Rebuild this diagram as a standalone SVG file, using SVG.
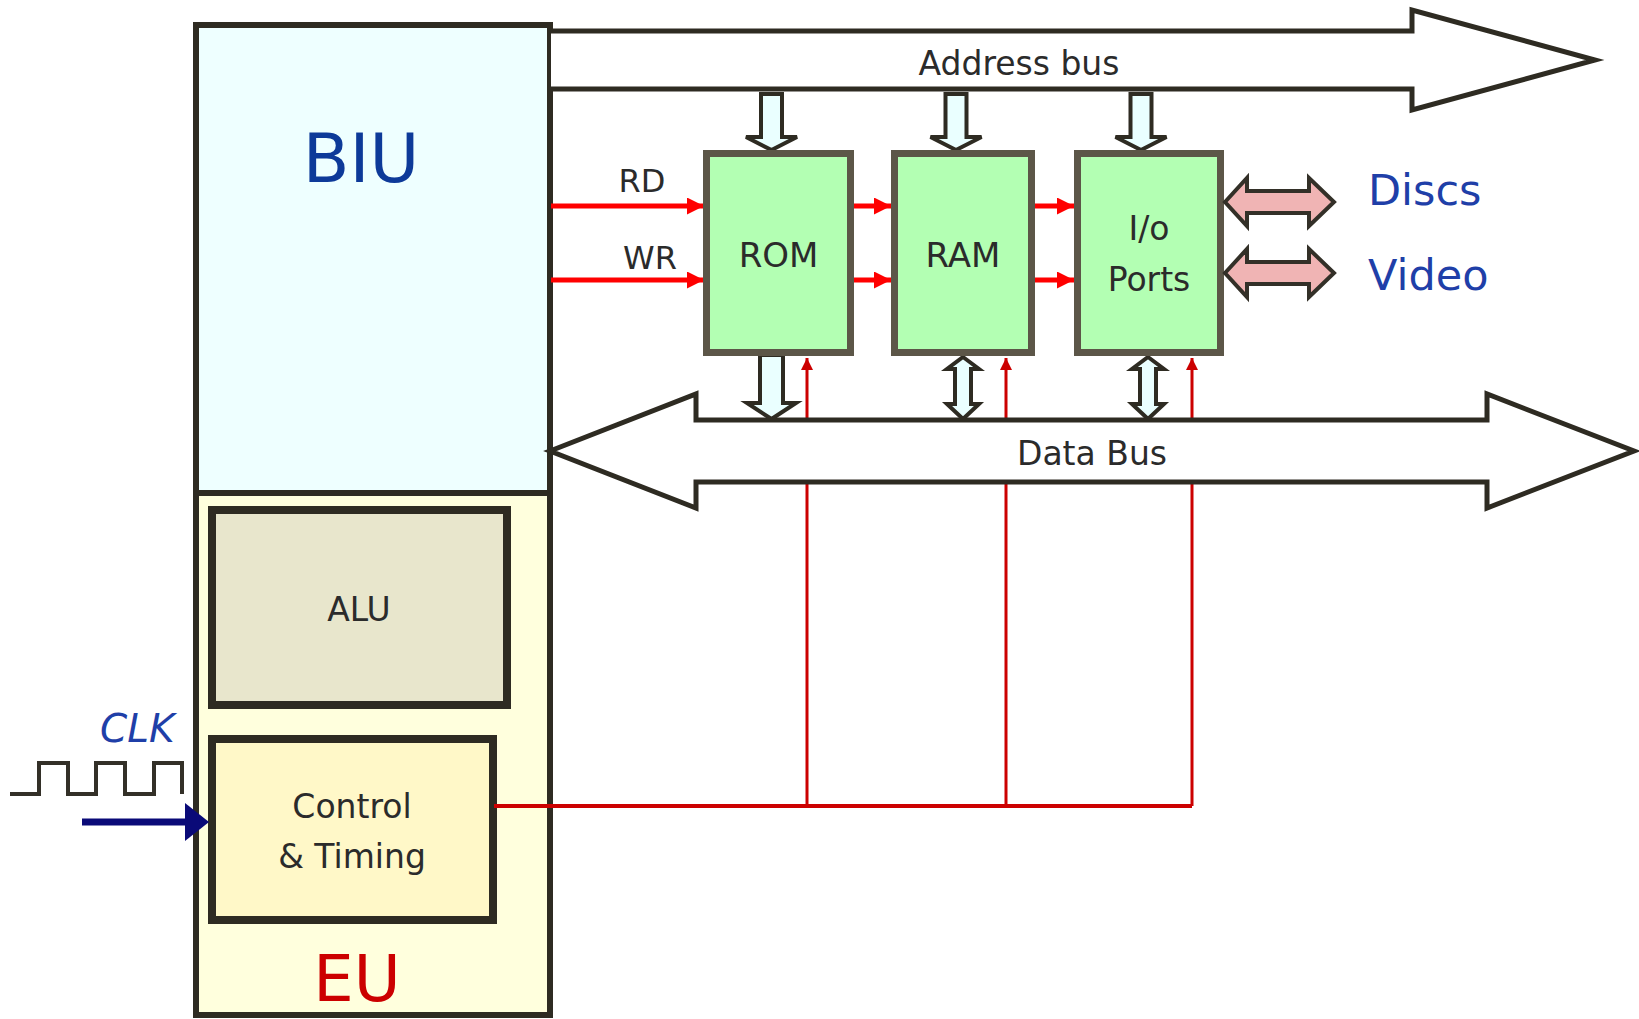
<svg xmlns="http://www.w3.org/2000/svg" width="1639" height="1019" viewBox="0 0 1639 1019">
<defs>
<style>
.lbl{font-family:"DejaVu Sans","Liberation Sans",sans-serif;fill:#2b2b2b;font-size:33px;text-anchor:middle}
.blue{font-family:"DejaVu Sans","Liberation Sans",sans-serif;fill:#1f3fa8}
.box{stroke:#5c5648;stroke-width:7;fill:#b3ffb3}
.bus{fill:#ffffff;stroke:#2e2b22;stroke-width:5;stroke-linejoin:miter}
.tap{fill:#eaffff;stroke:#2e2b22;stroke-width:4;stroke-linejoin:miter}
.dev{fill:#f0b4b4;stroke:#333028;stroke-width:4;stroke-linejoin:miter}
.sig{stroke:#ff0000;stroke-width:5;fill:none}
.ctl{stroke:#cc0000;stroke-width:3;fill:none}
</style>
<marker id="ah" viewBox="0 0 10 10" refX="10" refY="5" markerWidth="4" markerHeight="3.4" markerUnits="strokeWidth" orient="auto">
<path d="M0,0 L10,5 L0,10 Z" fill="#ff0000"/>
</marker>
<marker id="ch" viewBox="0 0 10 10" refX="10" refY="5" markerWidth="4.5" markerHeight="4" markerUnits="strokeWidth" orient="auto">
<path d="M0,0 L10,5 L0,10 Z" fill="#cc0000"/>
</marker>
</defs>
<rect width="1639" height="1019" fill="#ffffff"/>

<g id="biu">
<rect x="196" y="25" width="354" height="468" fill="#eeffff" stroke="#2e2b22" stroke-width="6"/>
<text class="blue" x="361" y="182" font-size="68" text-anchor="middle" style="fill:#0d3a99">BIU</text>
</g>

<g id="eu">
<rect x="196" y="493" width="354" height="522" fill="#ffffdd" stroke="#2e2b22" stroke-width="6"/>
<text x="357" y="1001" font-family="DejaVu Sans, Liberation Sans, sans-serif" font-size="64" fill="#cc0000" text-anchor="middle">EU</text>
</g>

<g id="alu">
<rect x="212" y="510" width="295" height="195" fill="#e8e6cc" stroke="#2e2b22" stroke-width="8"/>
<text class="lbl" x="359" y="621">ALU</text>
</g>

<g id="control">
<rect x="212" y="739" width="281" height="181" fill="#fff8c8" stroke="#2e2b22" stroke-width="8"/>
<text class="lbl" x="352" y="818">Control</text>
<text class="lbl" x="352" y="868">&amp; Timing</text>
</g>

<g id="clk">
<text class="blue" x="100" y="742" font-size="39" font-style="italic">CLK</text>
<path d="M10,794 H39 V763 H68 V794 H96 V763 H125 V794 H154 V763 H182 V794" fill="none" stroke="#333028" stroke-width="4"/>
</g>

<g id="connectors">
<line x1="82" y1="822" x2="188" y2="822" stroke="#0a0a78" stroke-width="7"/>
<path d="M185,803 L209,822 L185,841 Z" fill="#0a0a78"/>
<path class="ctl" d="M494,806 H1192" style="stroke-width:4"/>
<line class="ctl" x1="807" y1="806" x2="807" y2="358" marker-end="url(#ch)"/>
<line class="ctl" x1="1006" y1="806" x2="1006" y2="358" marker-end="url(#ch)"/>
<line class="ctl" x1="1192" y1="806" x2="1192" y2="358" marker-end="url(#ch)"/>
<line class="sig" x1="551" y1="206" x2="704" y2="206" marker-end="url(#ah)"/>
<line class="sig" x1="551" y1="280" x2="704" y2="280" marker-end="url(#ah)"/>
<line class="sig" x1="854" y1="206" x2="891" y2="206" marker-end="url(#ah)"/>
<line class="sig" x1="854" y1="280" x2="891" y2="280" marker-end="url(#ah)"/>
<line class="sig" x1="1035" y1="206" x2="1074" y2="206" marker-end="url(#ah)"/>
<line class="sig" x1="1035" y1="280" x2="1074" y2="280" marker-end="url(#ah)"/>
<text class="lbl" x="642" y="192" style="font-size:32px">RD</text>
<text class="lbl" x="650" y="269" style="font-size:32px">WR</text>
<path class="tap" d="M761,94 H782 V137 H797 L771.5,150 L746,137 H761 Z"/>
<path class="tap" d="M945.5,94 H966.5 V137 H981.5 L956,150 L930.5,137 H945.5 Z"/>
<path class="tap" d="M1130.5,94 H1151.5 V137 H1166.5 L1141,150 L1115.5,137 H1130.5 Z"/>
<path class="tap" d="M760,355 H783 V403 H796 L771.5,419 L747,403 H760 Z"/>
<path class="tap" d="M963,357 L979,369 H971 V404 H979 L963,419 L947,404 H955 V369 H947 Z"/>
<path class="tap" d="M1148,357 L1164,369 H1156 V404 H1164 L1148,419 L1132,404 H1140 V369 H1132 Z"/>
</g>

<g id="address-bus">
<path class="bus" d="M551,31 H1412 V10 L1595,60 L1412,110 V89 H551"/>
<text class="lbl" x="1019" y="75">Address bus</text>
</g>

<g id="data-bus">
<path class="bus" d="M550,451 L696,394 V420 H1487 V394 L1634,451 L1487,508 V482 H696 V508 Z"/>
<text class="lbl" x="1092" y="465">Data Bus</text>
</g>

<g id="rom">
<rect class="box" x="706.5" y="153.5" width="144" height="199"/>
<text class="lbl" x="778.5" y="267" style="font-size:34px">ROM</text>
</g>

<g id="ram">
<rect class="box" x="894.5" y="153.5" width="137" height="199"/>
<text class="lbl" x="963" y="267" style="font-size:34px">RAM</text>
</g>

<g id="io">
<rect class="box" x="1077.5" y="153.5" width="143" height="199"/>
<text class="lbl" x="1149" y="240">I/o</text>
<text class="lbl" x="1149" y="291">Ports</text>
</g>

<g id="discs">
<path class="dev" d="M1225,202 L1247,178 V191 H1309 V178 L1334,202 L1309,226 V213 H1247 V226 Z"/>
<text class="blue" x="1368" y="205" font-size="43">Discs</text>
</g>

<g id="video">
<path class="dev" d="M1225,273 L1247,249 V262 H1309 V249 L1334,273 L1309,297 V284 H1247 V297 Z"/>
<text class="blue" x="1368" y="290" font-size="43">Video</text>
</g>
</svg>
